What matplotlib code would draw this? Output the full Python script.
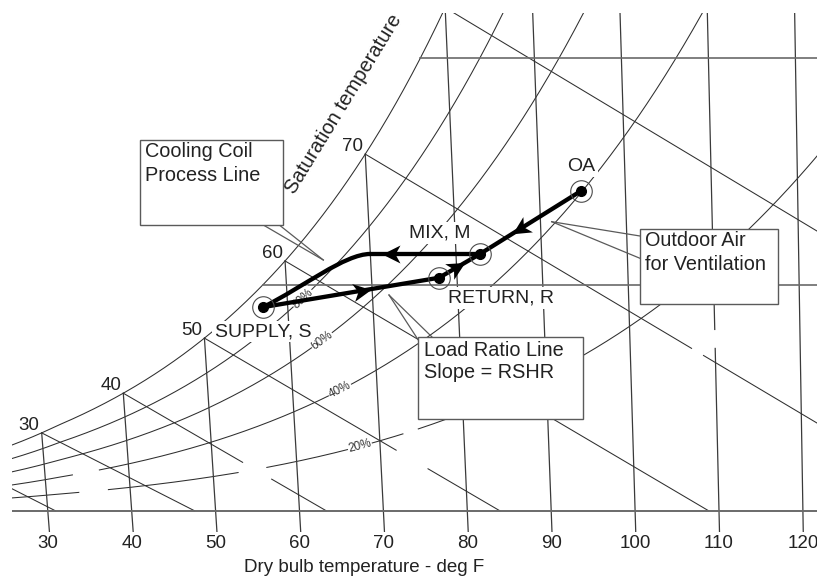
import numpy as np
import matplotlib
matplotlib.use("Agg")
import matplotlib.pyplot as plt
from matplotlib.path import Path
from matplotlib.patches import PathPatch, Rectangle
from matplotlib.markers import MarkerStyle
from matplotlib.transforms import Affine2D

plt.rcParams['font.family'] = ['Liberation Sans', 'DejaVu Sans']

# ---------------- data ----------------
dry_bulb_ticks = [30, 40, 50, 60, 70, 80, 90, 100, 110, 120]
sat_temp_labels = [30, 40, 50, 60, 70]
wet_bulb_temps = [20, 30, 40, 50, 60, 70, 80]
rh_levels = [20, 40, 60, 80]
rh_label_T = [67.6, 65.6, 63.8, 61.8]
w_grid = [0.010, 0.020]

# small breaks in the printed grid lines (dry-bulb ranges / humidity-ratio ranges)
wb_breaks = {40: [(53.6, 56.9)], 50: [(71.9, 75.5)], 70: [(107.3, 108.6)]}
rh_breaks = {20: [(33.9, 37.4), (53.0, 56.4), (72.8, 74.6)], 40: [(33.3, 36.5)]}
db_breaks = {110: [(0.0072, 0.0080)]}

state_names = ["SUPPLY, S", "RETURN, R", "MIX, M", "OA"]
state_T = [57.1, 77.9, 82.8, 94.9]
state_W = [0.0090, 0.0103, 0.01135, 0.01415]

# cooling coil process curve (bezier nodes: start, ctrl, ctrl, end)
coil_T = [70.0, 67.0, 62.0, 57.1]
coil_W = [0.01135, 0.01135, 0.00989, 0.0090]

P_ATM = 14.696

# ---------------- psychrometrics ----------------
def pws(T):
    T = np.asarray(T, float)
    TR = T + 459.67
    water = np.exp(-1.0440397e4 / TR - 1.1294650e1 - 2.7022355e-2 * TR
                   + 1.2890360e-5 * TR**2 - 2.4780681e-9 * TR**3 + 6.5459673 * np.log(TR))
    ice = np.exp(-1.0214165e4 / TR - 4.8932428 - 5.3765794e-3 * TR + 1.9202377e-7 * TR**2
                 + 3.5575832e-10 * TR**3 - 9.0344688e-14 * TR**4 + 4.1635019 * np.log(TR))
    return np.where(T >= 32, water, ice)


def w_rh(T, rh):
    p = rh * pws(T)
    return 0.621945 * p / (P_ATM - p)


def chart_x(T, W):
    # oblique enthalpy / humidity-ratio chart coordinate (ASHRAE style)
    T = np.asarray(T, float)
    return T + np.asarray(W, float) * (0.444 * T - 64.0) / 0.24


def w_wetbulb(T, twb):
    ws = float(w_rh(twb, 1.0))
    if twb >= 32:
        return ((1093 - 0.556 * twb) * ws - 0.240 * (T - twb)) / (1093 + 0.444 * T - twb)
    return ((1220 - 0.04 * twb) * ws - 0.240 * (T - twb)) / (1220 + 0.444 * T - 0.48 * twb)


def wb_end(twb):
    ws = float(w_rh(twb, 1.0))
    a = (1093 - 0.556 * twb) if twb >= 32 else (1220 - 0.04 * twb)
    return twb + a * ws / 0.240


def apply_breaks(key_vals, y, breaks):
    y = np.array(y, float)
    for lo, hi in breaks:
        y[(key_vals >= lo) & (key_vals <= hi)] = np.nan
    return y


# ---------------- figure ----------------
W_PX, H_PX = 817, 576
fig = plt.figure(figsize=(W_PX / 100, H_PX / 100), dpi=100)
axl, axr, axt, axb = 11.7, 817.0, 12.7, 531.7
ax = fig.add_axes([axl / W_PX, 1 - axb / H_PX, (axr - axl) / W_PX, (axb - axt) / H_PX])
XMIN, XMAX = 25.70, 121.68
YMIN, YMAX = -0.000928, 0.022016
ax.set_xlim(XMIN, XMAX)
ax.set_ylim(YMIN, YMAX)
for s in ax.spines.values():
    s.set_visible(False)
ax.set_yticks([])
ax.set_xticks(dry_bulb_ticks)
ax.set_xticklabels([str(t) for t in dry_bulb_ticks])
ax.tick_params(axis='x', length=0, pad=2.6, labelsize=13.5, labelcolor='#222222')
ax.set_xlabel("Dry bulb temperature - deg F", fontsize=13.5, color='#222222')
ax.xaxis.set_label_coords((364 - axl) / (axr - axl), (axb - 567) / (axb - axt))
ax.xaxis.label.set_va('center')

LC = '#2e2e2e'
Tfine = np.linspace(10, 140, 2600)
KNOCK = dict(boxstyle='square,pad=0.12', fc='white', ec='none')

# saturation + RH curves
for rh in [100] + rh_levels:
    Wc = w_rh(Tfine, rh / 100.0)
    Wd = apply_breaks(Tfine, Wc, rh_breaks.get(rh, []))
    ax.plot(chart_x(Tfine, Wc), Wd, color=LC, lw=0.75, zorder=1)

# dry bulb lines
for T in dry_bulb_ticks:
    wtop = min(float(w_rh(T, 1.0)), YMAX + 0.001)
    Wl = np.linspace(YMIN, wtop, 400)
    Wd = apply_breaks(Wl, Wl, db_breaks.get(T, []))
    ax.plot(chart_x(T, Wl), Wd, color='#3a3a3a', lw=0.9, zorder=1)

# wet bulb lines
for twb in wet_bulb_temps:
    Tl = np.linspace(twb, wb_end(twb), 600)
    Wl = w_wetbulb(Tl, twb)
    Wd = apply_breaks(Tl, Wl, wb_breaks.get(twb, []))
    ax.plot(chart_x(Tl, Wl), Wd, color=LC, lw=0.75, zorder=1)

# humidity ratio lines
Wsat_f = w_rh(Tfine, 1.0)
ax.plot([XMIN, XMAX], [0, 0], color='#6a6a6a', lw=1.4, zorder=1)
for w in w_grid:
    Ts = np.interp(w, Wsat_f, Tfine)
    ax.plot([chart_x(Ts, w), XMAX + 5], [w, w], color='#6a6a6a', lw=1.2, zorder=1)

# saturation temperature labels
for T in sat_temp_labels:
    ws = float(w_rh(T, 1.0))
    ax.annotate(str(T), (float(chart_x(T, ws)), ws), xytext=(-12.5, 7.5),
                textcoords='offset pixels', ha='center', va='center',
                fontsize=13.5, color='#222222', zorder=2)

# RH labels
for rh, Tl in zip(rh_levels, rh_label_T):
    f = rh / 100.0
    wl = float(w_rh(Tl, f))
    p0 = ax.transData.transform((float(chart_x(Tl - 0.6, w_rh(Tl - 0.6, f))), float(w_rh(Tl - 0.6, f))))
    p1 = ax.transData.transform((float(chart_x(Tl + 0.6, w_rh(Tl + 0.6, f))), float(w_rh(Tl + 0.6, f))))
    ang = np.degrees(np.arctan2(p1[1] - p0[1], p1[0] - p0[0]))
    ax.text(float(chart_x(Tl, wl)), wl, f"{rh}%", rotation=ang, rotation_mode='anchor',
            ha='center', va='center', fontsize=8.5, color='#333333', zorder=2,
            bbox=dict(boxstyle='square,pad=0.05', fc='white', ec='none'))

# ---------------- process ----------------
S = (state_T[0], state_W[0])
R = (state_T[1], state_W[1])
M = (state_T[2], state_W[2])
OA = (state_T[3], state_W[3])


def cx(p):
    return (float(chart_x(p[0], p[1])), p[1])


PLW = 3.1
for a, b in [(OA, M), (R, M), (S, R)]:
    A, B = cx(a), cx(b)
    ax.plot([A[0], B[0]], [A[1], B[1]], color='k', lw=PLW, solid_capstyle='round', zorder=4)
C0 = (coil_T[0], coil_W[0])
A, B = cx(M), cx(C0)
ax.plot([A[0], B[0]], [A[1], B[1]], color='k', lw=PLW, solid_capstyle='round', zorder=4)
coil_verts = [cx((t, w)) for t, w in zip(coil_T, coil_W)]
ax.add_patch(PathPatch(Path(coil_verts, [Path.MOVETO, Path.CURVE4, Path.CURVE4, Path.CURVE4]),
                       fill=False, ec='k', lw=PLW, capstyle='round', zorder=4))

# arrow heads (barbed)
arrow_path = Path([(1, 0), (-1, 1.0), (-0.45, 0), (-1, -1.0), (1, 0)],
                  [Path.MOVETO, Path.LINETO, Path.LINETO, Path.LINETO, Path.CLOSEPOLY])
L_PX = 18.0
for a, b, f in [(OA, M, 0.68), (R, M, 0.63), (M, C0, 0.89), (S, R, 0.61)]:
    da = ax.transData.transform(cx(a))
    db = ax.transData.transform(cx(b))
    d = db - da
    u = d / np.hypot(*d)
    tip = da + f * d
    cen = tip - 0.5 * L_PX * u
    cd = ax.transData.inverted().transform(cen)
    ang = np.degrees(np.arctan2(d[1], d[0]))
    mk = MarkerStyle(arrow_path, transform=Affine2D().rotate_deg(ang))
    ax.plot([cd[0]], [cd[1]], marker=mk, ms=L_PX * 0.72, color='k', mew=0, ls='none', zorder=5)

# state points
for T, w in zip(state_T, state_W):
    x = float(chart_x(T, w))
    ax.plot([x], [w], 'o', ms=15.5, mfc='none', mec='#4a4a4a', mew=0.8, zorder=5)
    ax.plot([x], [w], 'o', ms=7.0, color='k', zorder=6)

label_offsets = [(0, -24.4), (62.4, -20.6), (-40, 20.7), (0, 24)]
for name, T, w, off in zip(state_names, state_T, state_W, label_offsets):
    ax.annotate(name, (float(chart_x(T, w)), w), xytext=off, textcoords='offset pixels',
                ha='center', va='center', fontsize=14, color='#222222', zorder=3,
                bbox=KNOCK)

# ---------------- callouts (pixel overlay) ----------------
ov = fig.add_axes([0, 0, 1, 1])
ov.set_xlim(0, W_PX)
ov.set_ylim(H_PX, 0)
ov.axis('off')
ov.patch.set_visible(False)

BOX_EC = '#5a5a5a'
boxes = [
    ((140.0, 139.5, 282.7, 225.0), ["Cooling Coil", "Process Line"], [151.5, 175.5]),
    ((418.3, 337.0, 583.0, 419.3), ["Load Ratio Line", "Slope = RSHR"], [350.0, 373.0]),
    ((640.0, 229.0, 778.3, 304.0), ["Outdoor Air", "for Ventilation"], [240.5, 264.5]),
]
for (x0, y0, x1, y1), lines, ys in boxes:
    ov.add_patch(Rectangle((x0, y0), x1 - x0, y1 - y0, fc='white', ec=BOX_EC, lw=1.0, zorder=3))
    for t, yy in zip(lines, ys):
        ov.text(x0 + 5.5, yy, t, ha='left', va='center', fontsize=14.3, color='#222222', zorder=4)

leaders = [
    ((323.3, 260.0), [(263.3, 225.0), (279.3, 225.0)]),
    ((389.0, 295.0), [(418.3, 340.0), (432.0, 337.0)]),
    ((551.7, 221.7), [(640.0, 236.0), (640.0, 258.3)]),
]
for apex, ends in leaders:
    for e in ends:
        ov.plot([apex[0], e[0]], [apex[1], e[1]], color=BOX_EC, lw=0.9, zorder=2)

ov.text(344, 103.5, "Saturation temperature", rotation=58.6, rotation_mode='anchor',
        ha='center', va='center', fontsize=14.5, color='#222222')

fig.savefig("out.png", dpi=100)
